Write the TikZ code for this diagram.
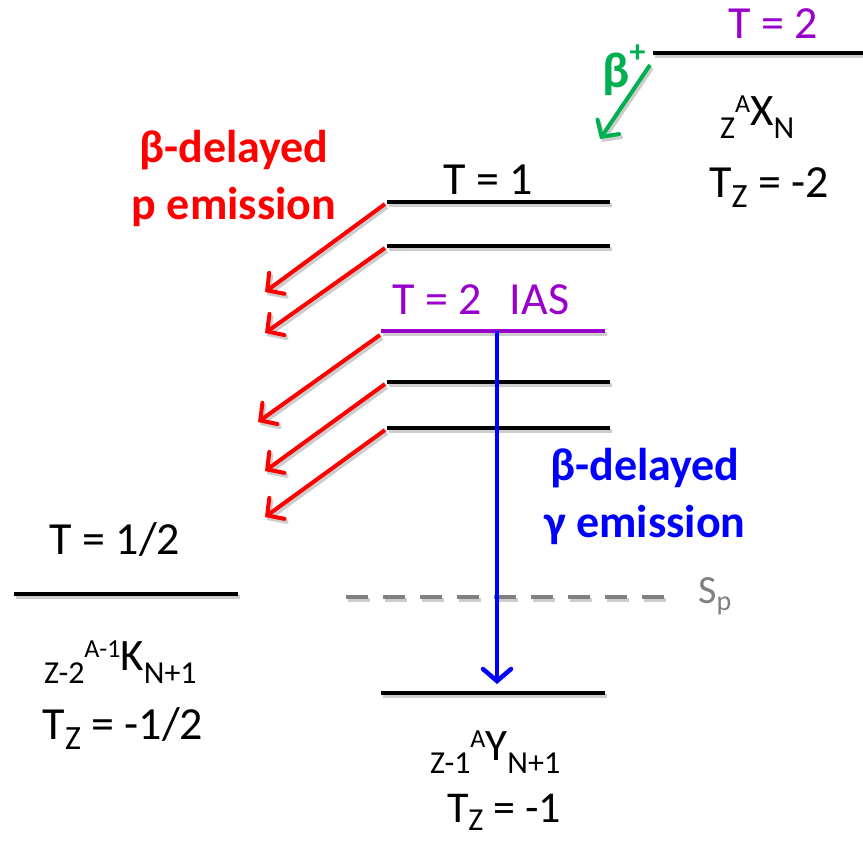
\documentclass[tikz,border=0pt]{standalone}
\usepackage{fontspec}
\setmainfont{Carlito}
\usetikzlibrary{arrows.meta}
\definecolor{myred}{RGB}{255,0,0}
\definecolor{mypurple}{RGB}{153,0,204}
\definecolor{mygreen}{RGB}{0,176,80}
\definecolor{myblue}{RGB}{0,0,255}
\definecolor{mygray}{RGB}{128,128,128}
\definecolor{shadowgray}{RGB}{205,205,205}
% nuclide label scripts
\newcommand{\nsub}[1]{\raisebox{-13pt}{\fontsize{32}{32}\selectfont #1}}
\newcommand{\nsup}[1]{\raisebox{13pt}{\fontsize{26}{26}\selectfont #1}}
% T_Z subscript
\newcommand{\tsub}[1]{\raisebox{-10pt}{\fontsize{34}{34}\selectfont #1}}
\tikzset{
  x=1pt, y=-1pt,
  txt/.style={inner sep=0pt, font=\fontsize{46}{50}\selectfont, align=center},
  nuc/.style={inner sep=0pt, anchor=base west, font=\fontsize{45}{45}\selectfont},
  btxt/.style={inner sep=0pt, font=\fontsize{46}{57}\selectfont\bfseries, align=center},
  lvl/.style={line width=4.5pt, black},
  shd/.style={line width=4pt, shadowgray},
  parr/.style={line width=4pt, myred, -{Straight Barb[length=12pt,width=26pt,line cap=round]}},
}
\begin{document}
\begin{tikzpicture}
\useasboundingbox (0,0) rectangle (863,841);
% level coordinates
\coordinate (xa) at (653,53); \coordinate (xb) at (863,53);
\coordinate (l1a) at (387,202); \coordinate (l1b) at (610,202);
\coordinate (l2a) at (387,246); \coordinate (l2b) at (610,246);
\coordinate (ia) at (381,331); \coordinate (ib) at (605,331);
\coordinate (l4a) at (387,382); \coordinate (l4b) at (610,382);
\coordinate (l5a) at (387,428); \coordinate (l5b) at (610,428);
\coordinate (ka) at (14,594); \coordinate (kb) at (238,594);
\coordinate (sa) at (346,597); \coordinate (sb) at (667,597);
\coordinate (ya) at (381,693); \coordinate (yb) at (605,693);
% shadows
\foreach \a/\b in {xa/xb,l1a/l1b,l2a/l2b,ia/ib,l4a/l4b,l5a/l5b,ka/kb,ya/yb}{
  \draw[shd] ([shift={(2,3)}]\a) -- ([shift={(2,3)}]\b);
}
\draw[shd, dash pattern=on 22pt off 15pt] ([shift={(2,3)}]sa) -- ([shift={(2,3)}]sb);
% levels
\draw[lvl] (xa) -- (xb);
\draw[lvl] (l1a) -- (l1b);
\draw[lvl] (l2a) -- (l2b);
\draw[lvl, mypurple] (ia) -- (ib);
\draw[lvl] (l4a) -- (l4b);
\draw[lvl] (l5a) -- (l5b);
\draw[lvl] (ka) -- (kb);
\draw[line width=4.5pt, mygray, dash pattern=on 22pt off 15pt] (sa) -- (sb);
\draw[lvl] (ya) -- (yb);
% proton arrows
\coordinate (p1s) at (385,204); \coordinate (p1e) at (265,292);
\coordinate (p2s) at (385,248); \coordinate (p2e) at (265,333);
\coordinate (p3s) at (380,335); \coordinate (p3e) at (258,422);
\coordinate (p4s) at (385,384); \coordinate (p4e) at (265,471);
\coordinate (p5s) at (385,430); \coordinate (p5e) at (265,517);
\foreach \s/\e in {p1s/p1e,p2s/p2e,p3s/p3e,p4s/p4e,p5s/p5e}{
  \draw[parr, shadowgray] ([shift={(2,3)}]\s) -- ([shift={(2,3)}]\e);
  \draw[parr] (\s) -- (\e);
}
% beta+ arrow
\coordinate (bs) at (650,65); \coordinate (be) at (600,139);
\draw[line width=4pt, shadowgray, -{Straight Barb[length=12pt,width=26pt,line cap=round]}] ([shift={(2,3)}]bs) -- ([shift={(2,3)}]be);
\draw[line width=4pt, mygreen, -{Straight Barb[length=12pt,width=26pt,line cap=round]}] (bs) -- (be);
% gamma arrow
\coordinate (gs) at (497,331); \coordinate (ge) at (497,684);
\draw[line width=4.5pt, myblue, -{Straight Barb[length=12pt,width=28pt,line cap=round]}] (gs) -- (ge);
% texts
\node[txt, mypurple] (t2) at (773,24) {T = 2};
\node[btxt, mygreen, font=\fontsize{50}{50}\selectfont\bfseries] (bplus) at (624,70) {β\raisebox{0.5em}{\fontsize{32}{32}\selectfont +}};
\node[nuc] (xlab) at (720,125) {\nsub{Z}\nsup{A}X\nsub{N}};
\node[txt, anchor=base] (xtz) at (769,197) {T\tsub{Z} = -2};
\node[txt] (t1) at (488,180) {T = 1};
\node[btxt, myred] (pem) at (234,178) {β-delayed\\p emission};
\node[txt, mypurple] (tias) at (481,300) {T = 2\hspace{0.6em}IAS};
\node[btxt, myblue] (gem) at (645,496) {β-delayed\\γ emission};
\node[txt] (thalf) at (115,540) {T = 1/2};
\node[nuc] (klab) at (44,670) {\nsub{Z-2}\nsup{A-1}K\nsub{N+1}};
\node[txt, anchor=base] (ktz) at (123,739) {T\tsub{Z} = -1/2};
\node[txt, mygray, anchor=base west, font=\fontsize{40}{40}\selectfont] (sp) at (698,603) {S\raisebox{-7pt}{\fontsize{28}{28}\selectfont p}};
\node[nuc] (ylab) at (430,760) {\nsub{Z-1}\nsup{A}Y\nsub{N+1}};
\node[txt, anchor=base, font=\fontsize{44}{44}\selectfont] (ytz) at (504,822) {T\raisebox{-8pt}{\fontsize{32}{32}\selectfont Z} = -1};
\end{tikzpicture}
\end{document}
